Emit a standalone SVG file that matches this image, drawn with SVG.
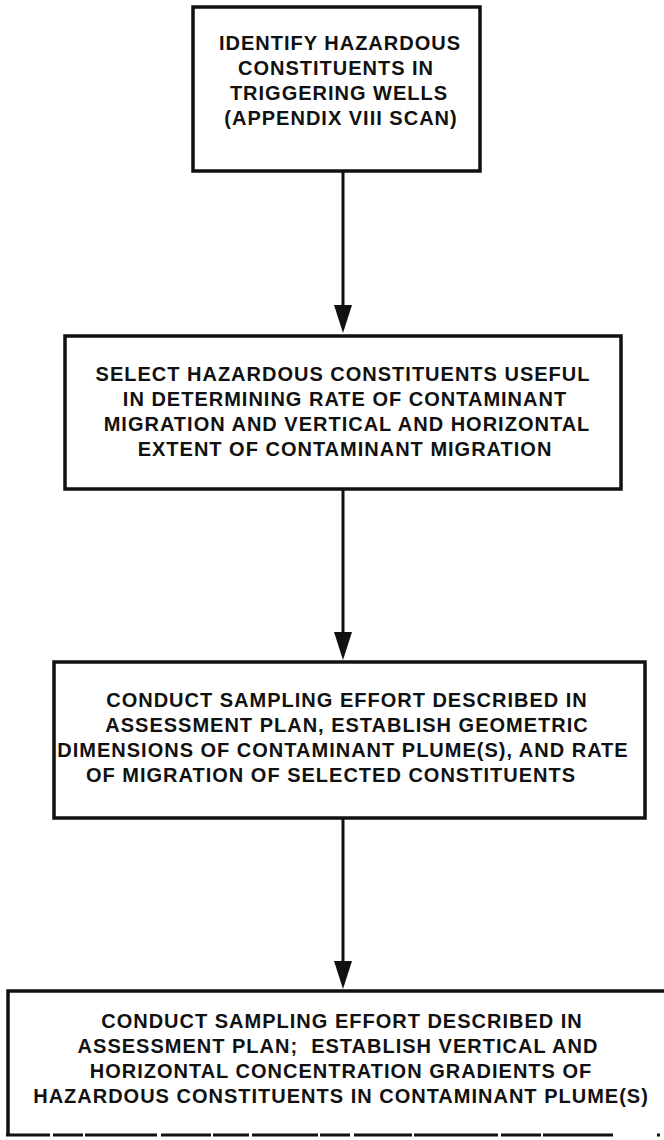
<svg xmlns="http://www.w3.org/2000/svg" width="664" height="1140" viewBox="0 0 664 1140">
  <style>
    .box { fill: none; stroke: #111; stroke-width: 3.5; }
    .edge { fill: none; stroke: #111; stroke-width: 3; }
    .lbl { font-family: "Liberation Sans", Arial, sans-serif; font-weight: bold; font-size: 20px; letter-spacing: 1px; fill: #111; text-anchor: middle; }
    .link { stroke: #111; stroke-width: 3; fill: none; }
    .head { fill: #111; }
  </style>
  <rect width="664" height="1140" fill="#fff"/>

  <!-- downward flow arrows between the steps -->
  <g id="connectors">
    <line class="link" x1="343" y1="171" x2="343" y2="320"/>
    <path class="head" d="M334,305 L352,305 L343,333 Z"/>
    <line class="link" x1="343" y1="489" x2="343" y2="647"/>
    <path class="head" d="M334,632 L352,632 L343,660 Z"/>
    <line class="link" x1="343" y1="818" x2="343" y2="976"/>
    <path class="head" d="M334,961 L352,961 L343,989 Z"/>
  </g>

  <g id="step1">
    <rect class="box" x="193" y="7" width="287" height="164"/>
    <text class="lbl" x="340" y="50">IDENTIFY HAZARDOUS</text>
    <text class="lbl" x="336" y="75">CONSTITUENTS IN</text>
    <text class="lbl" x="339" y="100">TRIGGERING WELLS</text>
    <text class="lbl" x="341" y="125">(APPENDIX VIII SCAN)</text>
  </g>

  <g id="step2">
    <rect class="box" x="65" y="336" width="556" height="153"/>
    <text class="lbl" x="343" y="381">SELECT HAZARDOUS CONSTITUENTS USEFUL</text>
    <text class="lbl" x="345" y="406">IN DETERMINING RATE OF CONTAMINANT</text>
    <text class="lbl" x="347" y="431">MIGRATION AND VERTICAL AND HORIZONTAL</text>
    <text class="lbl" x="345" y="456">EXTENT OF CONTAMINANT MIGRATION</text>
  </g>

  <g id="step3">
    <rect class="box" x="54" y="662" width="591" height="156"/>
    <text class="lbl" x="347" y="707">CONDUCT SAMPLING EFFORT DESCRIBED IN</text>
    <text class="lbl" x="347" y="732">ASSESSMENT PLAN, ESTABLISH GEOMETRIC</text>
    <text class="lbl" x="343" y="757">DIMENSIONS OF CONTAMINANT PLUME(S), AND RATE</text>
    <text class="lbl" x="331" y="782">OF MIGRATION OF SELECTED CONSTITUENTS</text>
  </g>

  <g id="step4">
    <!-- top, left and right sides; the right side runs past the page edge -->
    <path class="box" d="M668,991 L8,991 L8,1136"/>
    <!-- worn bottom rule with small breaks -->
    <line class="edge" x1="6" y1="1135" x2="664" y2="1135" stroke-dasharray="44 3 30 2 72 4 50 2 36 3 66 2 30 4 58 2 84 3 40 2 70"/>
    <text class="lbl" x="342" y="1028">CONDUCT SAMPLING EFFORT DESCRIBED IN</text>
    <text class="lbl" x="338" y="1053" xml:space="preserve">ASSESSMENT PLAN;  ESTABLISH VERTICAL AND</text>
    <text class="lbl" x="341" y="1078">HORIZONTAL CONCENTRATION GRADIENTS OF</text>
    <text class="lbl" x="341" y="1103">HAZARDOUS CONSTITUENTS IN CONTAMINANT PLUME(S)</text>
  </g>
</svg>
